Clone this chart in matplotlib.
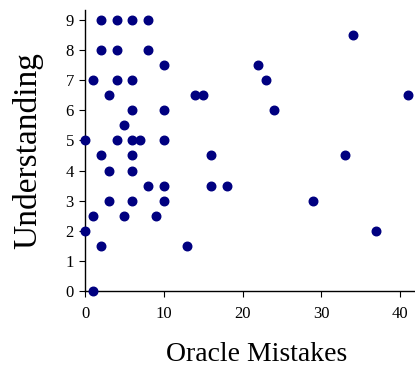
import matplotlib
matplotlib.use('Agg')
import matplotlib.pyplot as plt

# oracle mistakes vs understanding score
mistakes = [2, 4, 6, 8, 2, 4, 8, 10, 1, 4, 6, 3, 6, 10, 5,
            0, 4, 6, 7, 10, 2, 6, 3, 6, 8, 10, 3, 6, 10,
            1, 5, 9, 0, 2, 13, 1,
            34, 22, 23, 14, 15, 41, 24, 16, 33, 16, 18, 29, 37]
understanding = [9, 9, 9, 9, 8, 8, 8, 7.5, 7, 7, 7, 6.5, 6, 6, 5.5,
                 5, 5, 5, 5, 5, 4.5, 4.5, 4, 4, 3.5, 3.5, 3, 3, 3,
                 2.5, 2.5, 2.5, 2, 1.5, 1.5, 0,
                 8.5, 7.5, 7, 6.5, 6.5, 6.5, 6, 4.5, 4.5, 3.5, 3.5, 3, 2]

x_ticks = [0, 10, 20, 30, 40]
y_ticks = [0, 1, 2, 3, 4, 5, 6, 7, 8, 9]

plt.rcParams['font.family'] = ['Liberation Serif', 'DejaVu Serif']

fig = plt.figure(figsize=(4.15, 3.67), dpi=100)
ax = fig.add_axes([85/415, 76/367, 330/415, 281/367])

ax.scatter(mistakes, understanding, s=38, color='#000080', zorder=3, clip_on=False)

ax.set_xlim(0, 41.9)
ax.set_ylim(0, 9.33)
ax.set_xticks(x_ticks)
ax.set_yticks(y_ticks)

for s in ['top', 'right']:
    ax.spines[s].set_visible(False)
for s in ['left', 'bottom']:
    ax.spines[s].set_linewidth(1.0)
    ax.spines[s].set_color('black')

ax.tick_params(axis='both', direction='out', length=4, width=0.8, labelsize=12)
ax.tick_params(axis='x', pad=7)
ax.tick_params(axis='y', pad=4)

fig.text(257/415, 1 - 361/367, 'Oracle Mistakes', fontsize=20, ha='center', va='baseline')
fig.text(28/415, 1 - 151/367, 'Understanding', fontsize=24, ha='center', va='center', rotation=90)

fig.savefig('out.png', dpi=100)
